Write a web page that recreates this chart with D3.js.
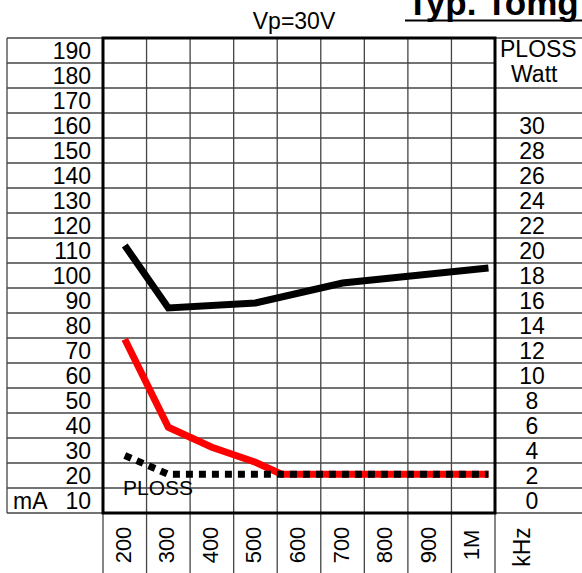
<!DOCTYPE html>
<html>
<head>
<meta charset="utf-8">
<script src="https://cdn.jsdelivr.net/npm/d3@7"></script>
<style>
  body { margin: 0; background: #fff; }
  text { font-family: "Liberation Sans", Arial, sans-serif; fill: #000; }
</style>
</head>
<body>
<div id="chart"></div>
<script>
// frequency columns (kHz) and their labels
const freqTicks = [200, 300, 400, 500, 600, 700, 800, 900, 1000];
const freqLabels = ["200", "300", "400", "500", "600", "700", "800", "900", "1M"];

// left axis (mA) row labels, right axis (Watt) row labels
const mATicks = [190, 180, 170, 160, 150, 140, 130, 120, 110, 100, 90, 80, 70, 60, 50, 40, 30, 20, 10];
const wattTicks = [30, 28, 26, 24, 22, 20, 18, 16, 14, 12, 10, 8, 6, 4, 2, 0];

// black current curve (mA)
const blackFreq = [200, 300, 500, 700, 1035];
const blackMA = [112, 87, 89, 97, 103];

// red current curve (mA)
const redFreq = [200, 300, 400, 500, 560, 1035];
const redMA = [74.5, 39.3, 31.3, 25.3, 20.5, 20.5];

// power loss (Watt), dotted
const plossFreq = [200, 300, 1035];
const plossW = [3.6, 2.1, 2.1];

const W = 582, H = 573;
const box = {left: 103, right: 495, top: 38, bottom: 513};

const svg = d3.select("#chart").append("svg")
  .attr("width", W).attr("height", H);

// scales
const x = d3.scaleLinear().domain([150, 1050]).range([box.left, box.right]);
const y = d3.scaleLinear().domain([5, 195]).range([box.bottom, box.top]);
const yW = d3.scaleLinear().domain([-1, 37]).range([box.bottom, box.top]);

const gridColor = "#444";

// row boundaries (between mA rows)
const rowBounds = mATicks.map(v => v + 5).concat([5]);
// column boundaries
const colBounds = freqTicks.map(f => f - 50).concat([1050]);

const grid = svg.append("g").attr("class", "grid");

// left table rows
grid.selectAll(".hl").data(rowBounds).enter().append("line")
  .attr("x1", 7).attr("x2", box.left)
  .attr("y1", d => y(d)).attr("y2", d => y(d))
  .attr("stroke", gridColor).attr("stroke-width", 1.3);
grid.append("line")
  .attr("x1", 7).attr("x2", 7).attr("y1", box.top).attr("y2", box.bottom)
  .attr("stroke", gridColor).attr("stroke-width", 1.3);

// plot rows
grid.selectAll(".hp").data(rowBounds).enter().append("line")
  .attr("x1", box.left).attr("x2", box.right)
  .attr("y1", d => y(d)).attr("y2", d => y(d))
  .attr("stroke", gridColor).attr("stroke-width", 1.3);

// right table rows (PLOSS/Watt cell is merged)
grid.selectAll(".hr").data(rowBounds.filter(d => d !== 185)).enter().append("line")
  .attr("x1", box.right).attr("x2", W)
  .attr("y1", d => y(d)).attr("y2", d => y(d))
  .attr("stroke", gridColor).attr("stroke-width", 1.3);

// columns, running down through the label strip
grid.selectAll(".vc").data(colBounds).enter().append("line")
  .attr("x1", d => x(d)).attr("x2", d => x(d))
  .attr("y1", box.top).attr("y2", H)
  .attr("stroke", gridColor).attr("stroke-width", 1.3);

// thick frame
svg.append("rect")
  .attr("x", box.left).attr("y", box.top)
  .attr("width", box.right - box.left).attr("height", box.bottom - box.top)
  .attr("fill", "none").attr("stroke", "#000").attr("stroke-width", 3);

// left labels via axis
const yAxis = d3.axisLeft(y).tickValues(mATicks).tickSize(0).tickPadding(12);
const ya = svg.append("g").attr("transform", "translate(" + box.left + ",0)").call(yAxis);
ya.select(".domain").remove();
ya.selectAll("text")
  .style("font-family", "'Liberation Sans', Arial, sans-serif")
  .style("font-size", "23px").attr("dy", "0.36em");

svg.append("text").attr("x", 13).attr("y", y(10) + 8.5)
  .style("font-size", "23px").text("mA");

// right labels via axis
const wAxis = d3.axisRight(yW).tickValues(wattTicks).tickSize(0).tickPadding(0);
const wa = svg.append("g").attr("transform", "translate(532,0)").call(wAxis);
wa.select(".domain").remove();
wa.selectAll("text")
  .style("font-family", "'Liberation Sans', Arial, sans-serif")
  .style("font-size", "23px").attr("text-anchor", "middle").attr("x", 0).attr("dy", "0.36em");

svg.append("text").attr("x", 500).attr("y", 57).style("font-size", "23px").text("PLOSS");
svg.append("text").attr("x", 511).attr("y", 82).style("font-size", "23px").text("Watt");

// bottom frequency labels, rotated
svg.selectAll(".fl").data(freqTicks).enter().append("text")
  .attr("transform", d => "translate(" + (x(d) + 6) + ",545) rotate(-90)")
  .attr("text-anchor", "middle")
  .style("font-size", "22px")
  .text((d, i) => freqLabels[i]);

svg.append("text")
  .attr("transform", "translate(" + (x(1100) + 13) + ",547) rotate(-90)")
  .attr("text-anchor", "middle")
  .style("font-size", "23px")
  .text("kHz");

// titles
svg.append("text").attr("x", 294).attr("y", 29).attr("text-anchor", "middle")
  .style("font-size", "23px").text("Vp=30V");
svg.append("text").attr("x", 407).attr("y", 15)
  .style("font-size", "35px").style("font-weight", "bold").text("Typ. Tomg");
svg.append("line").attr("x1", 405).attr("x2", W).attr("y1", 20.5).attr("y2", 20.5)
  .attr("stroke", "#000").attr("stroke-width", 2);

// curves
const lineMA = d3.line().x(d => x(d[0])).y(d => y(d[1]));
const lineW = d3.line().x(d => x(d[0])).y(d => yW(d[1]));

svg.append("path")
  .datum(redFreq.map((f, i) => [f, redMA[i]]))
  .attr("d", lineMA)
  .attr("fill", "none").attr("stroke", "#ff0000").attr("stroke-width", 7)
  .attr("stroke-linejoin", "miter");

svg.append("path")
  .datum(blackFreq.map((f, i) => [f, blackMA[i]]))
  .attr("d", lineMA)
  .attr("fill", "none").attr("stroke", "#000").attr("stroke-width", 7)
  .attr("stroke-linejoin", "miter");

svg.append("path")
  .datum(plossFreq.map((f, i) => [f, plossW[i]]))
  .attr("d", lineW)
  .attr("fill", "none").attr("stroke", "#000").attr("stroke-width", 7)
  .attr("stroke-dasharray", "7,6");

svg.append("text").attr("x", 123).attr("y", 495)
  .style("font-size", "21px").text("PLOSS");
</script>
</body>
</html>
